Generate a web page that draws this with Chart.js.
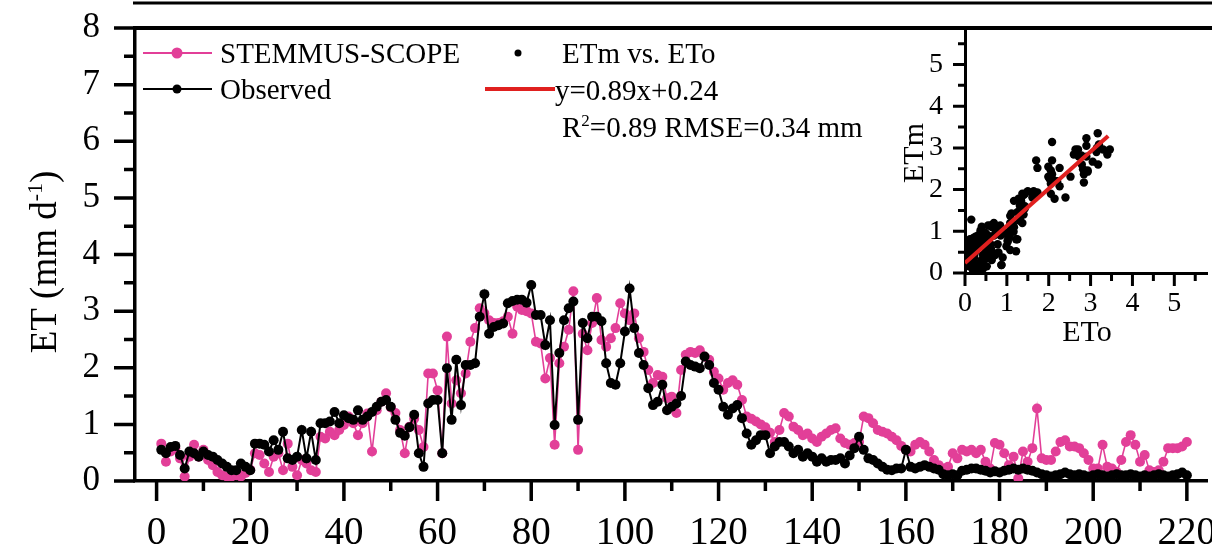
<!DOCTYPE html>
<html>
<head>
<meta charset="utf-8">
<title>ET time series</title>
<script src="https://cdn.jsdelivr.net/npm/chart.js@4.4.1/dist/chart.umd.min.js"></script>
<style>
  html, body { margin: 0; padding: 0; background: #fff; overflow: hidden; }
  #wrap { position: relative; width: 1212px; height: 545px; }
  #mainBox { position: absolute; left: 0; top: 0; width: 1212px; height: 545px; }
  #insetBox { position: absolute; left: 860px; top: 0; width: 352px; height: 350px; }
</style>
</head>
<body>
<div id="wrap">
  <div id="mainBox"><canvas id="etChart"></canvas></div>
  <div id="insetBox"><canvas id="scatterChart"></canvas></div>
</div>
<script>
// values, one per day (day 1 .. 220)
const days = Array.from({ length: 220 }, (_, i) => i + 1);

const observed = [
  0.55, 0.49, 0.60, 0.62, 0.46, 0.22, 0.52, 0.49, 0.43, 0.52,
  0.46, 0.43, 0.37, 0.31, 0.25, 0.19, 0.19, 0.31, 0.25, 0.19,
  0.66, 0.66, 0.64, 0.52, 0.72, 0.55, 0.87, 0.40, 0.37, 0.43,
  0.90, 0.40, 0.87, 0.37, 1.02, 1.02, 1.05, 1.22, 1.02, 1.16,
  1.11, 1.08, 1.25, 1.08, 1.14, 1.22, 1.31, 1.40, 1.43, 1.31,
  1.08, 0.85, 0.80, 0.95, 1.17, 0.49, 0.25, 1.37, 1.43, 1.43,
  0.49, 1.99, 1.08, 2.14, 1.34, 2.05, 2.05, 2.08, 2.90, 3.30,
  2.60, 2.72, 2.75, 2.78, 3.14, 3.18, 3.20, 3.20, 3.15, 3.46,
  2.93, 2.93, 2.40, 2.84, 0.99, 2.26, 2.84, 3.05, 3.17, 1.08,
  2.79, 2.52, 2.90, 2.90, 2.82, 2.08, 1.73, 1.70, 2.08, 2.64,
  3.40, 2.70, 2.26, 2.05, 1.64, 1.34, 1.40, 1.70, 1.25, 1.31,
  1.37, 1.50, 2.11, 2.05, 2.02, 1.99, 2.20, 2.05, 1.73, 1.61,
  1.31, 1.17, 1.28, 1.34, 1.11, 0.84, 0.64, 0.72, 0.81, 0.81,
  0.49, 0.61, 0.69, 0.69, 0.61, 0.49, 0.55, 0.43, 0.49, 0.43,
  0.34, 0.40, 0.34, 0.37, 0.37, 0.40, 0.31, 0.45, 0.58, 0.78,
  0.55, 0.40, 0.37, 0.31, 0.25, 0.20, 0.19, 0.22, 0.22, 0.55,
  0.25, 0.22, 0.25, 0.28, 0.25, 0.22, 0.20, 0.12, 0.10, 0.12,
  0.10, 0.18, 0.20, 0.22, 0.22, 0.20, 0.18, 0.15, 0.17, 0.15,
  0.18, 0.20, 0.22, 0.20, 0.22, 0.20, 0.18, 0.15, 0.12, 0.10,
  0.08, 0.10, 0.12, 0.15, 0.12, 0.10, 0.12, 0.10, 0.08, 0.10,
  0.12, 0.10, 0.08, 0.10, 0.12, 0.10, 0.10, 0.12, 0.10, 0.08,
  0.10, 0.08, 0.10, 0.12, 0.10, 0.08, 0.10, 0.12, 0.15, 0.10
];

const stemmus = [
  0.66, 0.34, 0.52, 0.58, 0.40, 0.08, 0.43, 0.64, 0.43, 0.55,
  0.37, 0.28, 0.16, 0.10, 0.08, 0.08, 0.10, 0.08, 0.14, 0.20,
  0.49, 0.46, 0.31, 0.16, 0.43, 0.49, 0.19, 0.66, 0.25, 0.10,
  0.37, 0.31, 0.19, 0.16, 0.78, 0.75, 0.87, 0.81, 0.90, 0.99,
  1.14, 1.02, 0.81, 1.02, 1.19, 0.52, 1.25, 1.40, 1.55, 1.30,
  1.20, 0.90, 0.49, 0.96, 1.10, 0.90, 0.60, 1.90, 1.90, 1.60,
  0.49, 2.55, 1.37, 1.78, 1.55, 1.90, 2.46, 2.70, 3.05, 2.96,
  2.84, 2.79, 2.79, 2.82, 2.90, 2.60, 3.08, 3.02, 3.00, 2.96,
  2.46, 2.43, 1.81, 2.17, 0.64, 2.08, 2.37, 2.67, 3.35, 0.55,
  2.60, 2.31, 2.79, 3.23, 2.49, 2.37, 2.52, 2.70, 3.14, 2.96,
  2.84, 2.96, 2.52, 2.28, 1.96, 1.73, 1.87, 1.84, 1.46, 1.49,
  1.20, 1.96, 2.23, 2.28, 2.26, 2.31, 2.20, 2.14, 1.93, 1.81,
  1.61, 1.73, 1.78, 1.70, 1.43, 1.14, 1.10, 1.05, 1.00, 0.95,
  0.85, 0.69, 0.90, 1.20, 1.14, 0.96, 0.90, 0.81, 0.84, 0.75,
  0.69, 0.78, 0.84, 0.90, 0.93, 0.75, 0.67, 0.64, 0.67, 0.69,
  1.14, 1.11, 1.02, 0.90, 0.87, 0.84, 0.78, 0.72, 0.62, 0.55,
  0.52, 0.64, 0.69, 0.64, 0.52, 0.37, 0.28, 0.22, 0.25, 0.49,
  0.40, 0.55, 0.52, 0.55, 0.49, 0.55, 0.34, 0.22, 0.67, 0.64,
  0.49, 0.28, 0.43, 0.05, 0.52, 0.34, 0.58, 1.28, 0.40, 0.37,
  0.37, 0.52, 0.69, 0.72, 0.61, 0.61, 0.58, 0.49, 0.37, 0.22,
  0.22, 0.64, 0.25, 0.22, 0.16, 0.37, 0.69, 0.81, 0.64, 0.34,
  0.46, 0.19, 0.16, 0.19, 0.34, 0.58, 0.58, 0.58, 0.61, 0.69
];

const xMajor = [0, 20, 40, 60, 80, 100, 120, 140, 160, 180, 200, 220];
const xMinor = [10, 30, 50, 70, 90, 110, 130, 150, 170, 190, 210];
const yMajor = [0, 1, 2, 3, 4, 5, 6, 7, 8];
const yMinor = [0.5, 1.5, 2.5, 3.5, 4.5, 5.5, 6.5, 7.5];
const insetMajor = [0, 1, 2, 3, 4, 5];
const insetMinor = [0.5, 1.5, 2.5, 3.5, 4.5, 5.5];

// regression shown in the legend
const fitSlope = 0.89;
const fitIntercept = 0.24;
const fitFrom = 0;
const fitTo = 3.42;

const SERIF = '"Liberation Serif", "Times New Roman", serif';
const PINK = '#e23f98';
const RED = '#e0201f';

Chart.defaults.color = '#000';
Chart.defaults.font.family = SERIF;

function drawTicks(ctx, scale, values, len, width) {
  ctx.save();
  ctx.strokeStyle = '#000';
  ctx.lineWidth = width;
  ctx.beginPath();
  values.forEach(v => {
    const p = scale.getPixelForValue(v);
    if (scale.isHorizontal()) {
      ctx.moveTo(p, scale.top);
      ctx.lineTo(p, scale.top + len);
    } else {
      ctx.moveTo(scale.right, p);
      ctx.lineTo(scale.right - len, p);
    }
  });
  ctx.stroke();
  ctx.restore();
}

// draws text made of [string, isSuperscript] pieces, centred or left aligned
function drawRich(ctx, parts, x, y, size, align) {
  const sub = Math.round(size * 0.6);
  const widths = parts.map(([t, sup]) => {
    ctx.font = (sup ? sub : size) + 'px ' + SERIF;
    return ctx.measureText(t).width;
  });
  const total = widths.reduce((a, b) => a + b, 0);
  let cx = align === 'center' ? x - total / 2 : x;
  ctx.textAlign = 'left';
  ctx.textBaseline = 'alphabetic';
  parts.forEach(([t, sup], i) => {
    ctx.font = (sup ? sub : size) + 'px ' + SERIF;
    ctx.fillText(t, cx, sup ? y - size * 0.38 : y);
    cx += widths[i];
  });
}

const mainDecor = {
  id: 'mainDecor',
  afterDraw(chart) {
    const ctx = chart.ctx;
    const area = chart.chartArea;
    const x = chart.scales.x;
    const y = chart.scales.y;

    drawTicks(ctx, x, xMajor, 20, 3.5);
    drawTicks(ctx, x, xMinor, 10, 3.5);
    drawTicks(ctx, y, yMajor, 21, 3.5);
    drawTicks(ctx, y, yMinor, 11, 3.5);

    ctx.save();
    ctx.strokeStyle = '#000';
    // top frame and the bottom edge of the panel above
    ctx.lineWidth = 4;
    ctx.beginPath();
    ctx.moveTo(area.left, area.top);
    ctx.lineTo(chart.width, area.top);
    ctx.stroke();
    ctx.lineWidth = 3;
    ctx.beginPath();
    ctx.moveTo(133, 3);
    ctx.lineTo(chart.width, 3);
    ctx.stroke();

    // y title
    ctx.fillStyle = '#000';
    ctx.save();
    ctx.translate(56, 262);
    ctx.rotate(-Math.PI / 2);
    drawRich(ctx, [['ET (mm d', false], ['-1', true], [')', false]], 0, 0, 37, 'center');
    ctx.restore();

    // legend, left block
    ctx.lineWidth = 2;
    ctx.strokeStyle = PINK;
    ctx.beginPath(); ctx.moveTo(143, 53); ctx.lineTo(212, 53); ctx.stroke();
    ctx.fillStyle = PINK;
    ctx.beginPath(); ctx.arc(177, 53, 5.5, 0, Math.PI * 2); ctx.fill();
    ctx.strokeStyle = '#000';
    ctx.beginPath(); ctx.moveTo(143, 89); ctx.lineTo(212, 89); ctx.stroke();
    ctx.fillStyle = '#000';
    ctx.beginPath(); ctx.arc(177, 89, 4.5, 0, Math.PI * 2); ctx.fill();

    ctx.font = '29px ' + SERIF;
    ctx.textAlign = 'left';
    ctx.textBaseline = 'alphabetic';
    ctx.fillText('STEMMUS-SCOPE', 220, 63);
    ctx.fillText('Observed', 220, 99);

    // legend, right block
    ctx.beginPath(); ctx.arc(518, 53, 3.5, 0, Math.PI * 2); ctx.fill();
    ctx.fillText('ETm vs. ETo', 562, 63);
    ctx.strokeStyle = RED;
    ctx.lineWidth = 4;
    ctx.beginPath(); ctx.moveTo(485, 89); ctx.lineTo(555, 89); ctx.stroke();
    ctx.fillText('y=0.89x+0.24', 555, 100);
    drawRich(ctx, [['R', false], ['2', true], ['=0.89 RMSE=0.34 mm', false]], 562, 137, 29, 'left');
    ctx.restore();
  }
};

new Chart(document.getElementById('etChart'), {
  type: 'line',
  data: {
    datasets: [
      {
        label: 'STEMMUS-SCOPE',
        data: days.map((d, i) => ({ x: d, y: stemmus[i] })),
        borderColor: PINK,
        backgroundColor: PINK,
        borderWidth: 1.6,
        pointRadius: 5,
        pointBorderWidth: 0,
        order: 2
      },
      {
        label: 'Observed',
        data: days.map((d, i) => ({ x: d, y: observed[i] })),
        borderColor: '#000',
        backgroundColor: '#000',
        borderWidth: 2,
        pointRadius: 5,
        pointBorderWidth: 0,
        order: 1
      }
    ]
  },
  options: {
    responsive: true,
    maintainAspectRatio: false,
    animation: false,
    layout: { padding: { top: 28, left: 0, right: 0, bottom: 0 } },
    plugins: { legend: { display: false }, tooltip: { enabled: false } },
    scales: {
      x: {
        type: 'linear',
        min: -4.61,
        max: 224.3,
        grid: { display: true, drawOnChartArea: false, drawTicks: false },
        border: { display: true, width: 3.5, color: '#000' },
        ticks: { stepSize: 20, includeBounds: false, autoSkip: false, maxRotation: 0,
                 padding: 29, font: { size: 39 } },
        afterFit(s) { s.height = 64; s.paddingLeft = 0; s.paddingRight = 0; }
      },
      y: {
        min: 0,
        max: 8,
        grid: { display: true, drawOnChartArea: false, drawTicks: false },
        border: { display: true, width: 3.5, color: '#000' },
        ticks: { stepSize: 1, padding: 35, font: { size: 35 } },
        afterFit(s) { s.width = 135; s.paddingTop = 0; s.paddingBottom = 0; }
      }
    }
  },
  plugins: [mainDecor]
});

const insetDecor = {
  id: 'insetDecor',
  afterDraw(chart) {
    const ctx = chart.ctx;
    drawTicks(ctx, chart.scales.x, insetMajor, 13, 3);
    drawTicks(ctx, chart.scales.x, insetMinor, 8, 3);
    drawTicks(ctx, chart.scales.y, insetMajor, 12, 3);
    drawTicks(ctx, chart.scales.y, insetMinor, 7, 3);

    ctx.save();
    ctx.fillStyle = '#000';
    ctx.font = '30px ' + SERIF;
    ctx.textAlign = 'center';
    ctx.textBaseline = 'alphabetic';
    ctx.fillText('ETo', 227, 341);
    ctx.translate(63, 153);
    ctx.rotate(-Math.PI / 2);
    ctx.fillText('ETm', 0, 0);
    ctx.restore();
  }
};

new Chart(document.getElementById('scatterChart'), {
  type: 'scatter',
  data: {
    datasets: [
      {
        type: 'line',
        label: 'fit',
        data: [fitFrom, fitTo].map(v => ({ x: v, y: fitSlope * v + fitIntercept })),
        borderColor: RED,
        borderWidth: 4,
        pointRadius: 0,
        order: 0
      },
      {
        label: 'ETm vs. ETo',
        data: observed.map((o, i) => ({ x: o, y: stemmus[i] })),
        backgroundColor: '#000',
        borderColor: '#000',
        pointRadius: 4.2,
        pointBorderWidth: 0,
        order: 1
      }
    ]
  },
  options: {
    responsive: true,
    maintainAspectRatio: false,
    animation: false,
    layout: { padding: { top: 28, left: 0, right: 0, bottom: 0 } },
    plugins: { legend: { display: false }, tooltip: { enabled: false } },
    scales: {
      x: {
        type: 'linear',
        min: 0,
        max: 5.8,
        grid: { display: true, drawOnChartArea: false, drawTicks: false },
        border: { display: true, width: 3, color: '#000' },
        ticks: { stepSize: 1, includeBounds: false, autoSkip: false, maxRotation: 0,
                 padding: 14, font: { size: 28 } },
        afterFit(s) { s.height = 77; s.paddingLeft = 0; s.paddingRight = 0; }
      },
      y: {
        min: 0,
        max: 5.875,
        grid: { display: true, drawOnChartArea: false, drawTicks: false },
        border: { display: true, width: 3, color: '#000' },
        ticks: { stepSize: 1, includeBounds: false, padding: 22, font: { size: 28 } },
        afterFit(s) { s.width = 105; s.paddingTop = 0; s.paddingBottom = 0; }
      }
    }
  },
  plugins: [insetDecor]
});
</script>
</body>
</html>
